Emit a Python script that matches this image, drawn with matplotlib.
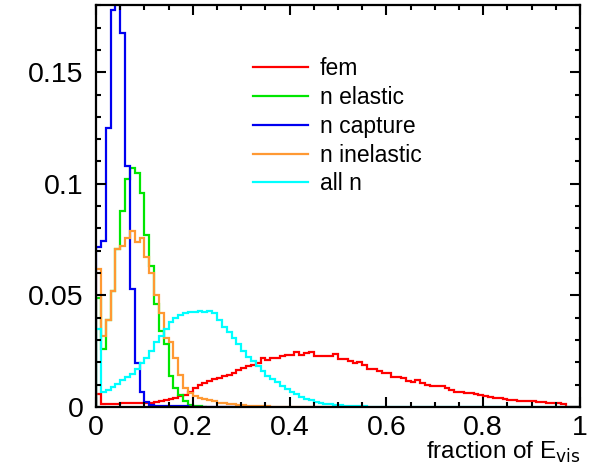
import numpy as np
import matplotlib
matplotlib.use("Agg")
import matplotlib.pyplot as plt
from matplotlib.ticker import MultipleLocator

plt.rcParams['font.family'] = ['Liberation Sans', 'DejaVu Sans']

# bin edges: 100 bins of width 0.01 on [0, 1]
edges = np.linspace(0.0, 1.0, 101)

# fraction of E_vis per bin
fem = [0.006, 0.0015, 0.0015, 0.0015, 0.0015, 0.0017, 0.0017, 0.0017, 0.0018, 0.0018,
       0.002, 0.0018, 0.0022, 0.0025, 0.003, 0.0035, 0.004, 0.0048, 0.0055, 0.0069,
       0.0084, 0.0097, 0.0108, 0.0118, 0.0125, 0.013, 0.0138, 0.0145, 0.0152, 0.0166,
       0.0176, 0.0183, 0.0188, 0.0197, 0.022, 0.0212, 0.022, 0.022, 0.0228, 0.0233,
       0.0233, 0.0248, 0.0233, 0.024, 0.0248, 0.0228, 0.0228, 0.0228, 0.0228, 0.0237,
       0.0215, 0.0215, 0.0206, 0.0196, 0.0203, 0.019, 0.0169, 0.0169, 0.0163, 0.0154,
       0.0154, 0.0136, 0.0136, 0.0128, 0.0118, 0.0113, 0.012, 0.0106, 0.0099, 0.0095,
       0.0095, 0.0095, 0.0084, 0.0076, 0.0069, 0.0069, 0.0061, 0.0061, 0.0058, 0.0054,
       0.005, 0.0046, 0.0042, 0.0039, 0.0036, 0.0033, 0.0031, 0.0029, 0.0028, 0.0027,
       0.0025, 0.0024, 0.0022, 0.002, 0.0018, 0.0016, 0.0012, 0.0, 0.0, 0.0]

n_elastic = [0.049, 0.026, 0.039, 0.052, 0.071, 0.088, 0.102, 0.107, 0.105, 0.096,
             0.077, 0.063, 0.046, 0.034, 0.028, 0.014, 0.0085, 0.0055, 0.0025, 0.001,
             0.0005, 0.0003, 0.0]

n_capture = [0.0717, 0.0744, 0.125, 0.178, 0.2, 0.1676, 0.108, 0.0529, 0.0197, 0.0067,
             0.0022, 0.0008, 0.0006, 0.0005, 0.0004, 0.0004, 0.0003, 0.0003, 0.0003, 0.0002,
             0.0002, 0.0002, 0.0002, 0.0001, 0.0001, 0.0001, 0.0001, 0.0001, 0.0001, 0.0001]

n_inelastic = [0.062, 0.032, 0.039, 0.052, 0.071, 0.072, 0.0757, 0.079, 0.074, 0.0757,
               0.067, 0.06, 0.05, 0.042, 0.031, 0.029, 0.022, 0.0143, 0.0085, 0.0063,
               0.005, 0.004, 0.0035, 0.003, 0.0025, 0.002, 0.0018, 0.0015, 0.0012, 0.001,
               0.0008, 0.0006, 0.0005, 0.0004, 0.0003, 0.0003, 0.0002, 0.0002, 0.0002, 0.0001,
               0.0001, 0.0001, 0.0001, 0.0001, 0.0001, 0.0001, 0.0001, 0.0001, 0.0001, 0.0001]

all_n = [0.035, 0.0067, 0.0078, 0.009, 0.0105, 0.012, 0.0135, 0.015, 0.017, 0.0195,
         0.022, 0.025, 0.029, 0.032, 0.035, 0.038, 0.04, 0.041, 0.042, 0.0425,
         0.0427, 0.043, 0.0425, 0.043, 0.042, 0.039, 0.036, 0.0335, 0.031, 0.028,
         0.025, 0.0225, 0.0205, 0.0185, 0.016, 0.014, 0.0125, 0.011, 0.0095, 0.008,
         0.0068, 0.0056, 0.0046, 0.0038, 0.003, 0.0024, 0.0019, 0.0015, 0.0012, 0.001,
         0.0008, 0.0006, 0.0005, 0.0004, 0.0003, 0.0003, 0.0002, 0.0002, 0.0002, 0.0002,
         0.0002, 0.0002, 0.0002, 0.0002, 0.0002, 0.0002, 0.0002, 0.0002, 0.0002, 0.0002,
         0.0002, 0.0002, 0.0002, 0.0002, 0.0002, 0.0002, 0.0002, 0.0002, 0.0002, 0.0002,
         0.0002, 0.0002, 0.0002, 0.0002, 0.0002, 0.0002, 0.0002, 0.0002, 0.0002, 0.0002,
         0.0002, 0.0002, 0.0002, 0.0002, 0.0002, 0.0002, 0.0002, 0.0002, 0.0002, 0.0002]

series = [
    ("fem", fem, "#ff0000"),
    ("n elastic", n_elastic, "#00e600"),
    ("n capture", n_capture, "#0000f0"),
    ("n inelastic", n_inelastic, "#ff9933"),
    ("all n", all_n, "#00ffff"),
]

xticks = [0, 0.2, 0.4, 0.6, 0.8, 1.0]
xticklabels = ["0", "0.2", "0.4", "0.6", "0.8", "1"]
yticks = [0, 0.05, 0.1, 0.15]
yticklabels = ["0", "0.05", "0.1", "0.15"]

fig = plt.figure(figsize=(5.98, 4.71), dpi=100)
ax = fig.add_axes([0.1605, 0.1359, 0.8095, 0.853])

for name, vals, col in series:
    ax.stairs(vals, edges[:len(vals) + 1], color=col, linewidth=1.6, label=name)

ax.set_xlim(0, 1)
ax.set_ylim(0, 0.18)
ax.set_xticks(xticks)
ax.set_xticklabels(xticklabels)
ax.set_yticks(yticks)
ax.set_yticklabels(yticklabels)
ax.xaxis.set_minor_locator(MultipleLocator(0.05))
ax.yaxis.set_minor_locator(MultipleLocator(0.01))
ax.tick_params(which='both', direction='in', top=True, right=True, width=1.5)
ax.tick_params(which='major', length=7.5, labelsize=20.5)
ax.tick_params(axis='x', which='major', pad=6)
ax.tick_params(axis='y', which='major', pad=9)
ax.tick_params(which='minor', length=3.5)
for sp in ax.spines.values():
    sp.set_linewidth(1.6)

ax.set_xlabel("fraction of E$_{\\rm vis}$", fontsize=17.5, loc='right', labelpad=-1)

leg = ax.legend(loc='upper left', bbox_to_anchor=(0.324, 0.870), frameon=False,
                fontsize=16.5, handlelength=2.4, handletextpad=0.52, labelspacing=0.25,
                borderpad=0, borderaxespad=0)

fig.savefig("out.png", dpi=100)
